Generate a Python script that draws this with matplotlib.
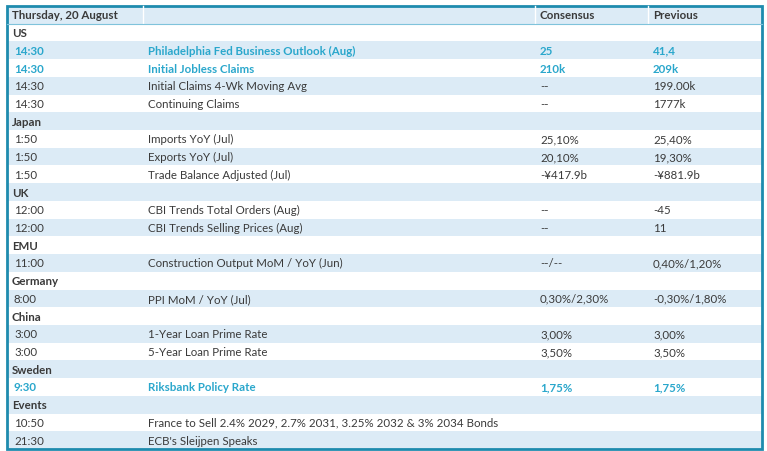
import matplotlib.pyplot as plt
from matplotlib.patches import Rectangle

# (kind, time, event, consensus, previous); kind: h=header, g=group, b=bold highlight, n=normal
rows = [
    ("h", "Thursday, 20 August", "", "Consensus", "Previous"),
    ("g", "US", "", "", ""),
    ("b", "14:30", "Philadelphia Fed Business Outlook (Aug)", "25", "41,4"),
    ("b", "14:30", "Initial Jobless Claims", "210k", "209k"),
    ("n", "14:30", "Initial Claims 4-Wk Moving Avg", "--", "199.00k"),
    ("n", "14:30", "Continuing Claims", "--", "1777k"),
    ("g", "Japan", "", "", ""),
    ("n", "1:50", "Imports YoY (Jul)", "25,10%", "25,40%"),
    ("n", "1:50", "Exports YoY (Jul)", "20,10%", "19,30%"),
    ("n", "1:50", "Trade Balance Adjusted (Jul)", "-¥417.9b", "-¥881.9b"),
    ("g", "UK", "", "", ""),
    ("n", "12:00", "CBI Trends Total Orders (Aug)", "--", "-45"),
    ("n", "12:00", "CBI Trends Selling Prices (Aug)", "--", "11"),
    ("g", "EMU", "", "", ""),
    ("n", "11:00", "Construction Output MoM / YoY (Jun)", "--/--", "0,40%/1,20%"),
    ("g", "Germany", "", "", ""),
    ("n", "8:00", "PPI MoM / YoY (Jul)", "0,30%/2,30%", "-0,30%/1,80%"),
    ("g", "China", "", "", ""),
    ("n", "3:00", "1-Year Loan Prime Rate", "3,00%", "3,00%"),
    ("n", "3:00", "5-Year Loan Prime Rate", "3,50%", "3,50%"),
    ("g", "Sweden", "", "", ""),
    ("b", "9:30", "Riksbank Policy Rate", "1,75%", "1,75%"),
    ("g", "Events", "", "", ""),
    ("n", "10:50", "France to Sell 2.4% 2029, 2.7% 2031, 3.25% 2032 & 3% 2034 Bonds", "", ""),
    ("n", "21:30", "ECB's Sleijpen Speaks", "", ""),
]

W, H = 767, 452
left, right, top, bottom = 7, 762, 7, 450
row_h = (bottom - top) / len(rows)
col_x = [14, 148, 540, 653]
stripe = "#DCEBF6"
teal = "#2AA7CC"
dark = "#3A3A3A"
fs = 8.3

fig = plt.figure(figsize=(W / 100, H / 100), dpi=100)
ax = fig.add_axes([0, 0, 1, 1])
ax.set_xlim(0, W)
ax.set_ylim(H, 0)
ax.axis("off")

for i, (kind, t, ev, cons, prev) in enumerate(rows):
    y0 = top + i * row_h
    if i % 2 == 0:
        ax.add_patch(Rectangle((left, y0), right - left, row_h, color=stripe, lw=0))
    yc = y0 + row_h / 2
    if kind in ("h", "g"):
        ax.text(left + 5, yc, t, fontsize=fs, fontweight="bold", color=dark,
                va="center", family="Lato")
        if kind == "h":
            for x, s in zip(col_x[2:], [cons, prev]):
                ax.text(x, yc, s, fontsize=fs, fontweight="bold", color=dark,
                        va="center", family="Lato")
        continue
    color = teal if kind == "b" else dark
    weight = "bold" if kind == "b" else "normal"
    for x, s in zip(col_x, [t, ev, cons, prev]):
        ax.text(x, yc, s, fontsize=fs, fontweight=weight, color=color,
                va="center", family="Lato")

# faint column dividers
for x in [143, 535, 648]:
    ax.plot([x, x], [top, top + row_h], color="white", lw=1)
# header underline and outer frame
ax.plot([left, right], [top + row_h, top + row_h], color="#7FC3DB", lw=0.8)
ax.add_patch(Rectangle((left, top), right - left, bottom - top, fill=False,
                       edgecolor="#1E8BAE", lw=2))

fig.savefig("out.png", dpi=100)
